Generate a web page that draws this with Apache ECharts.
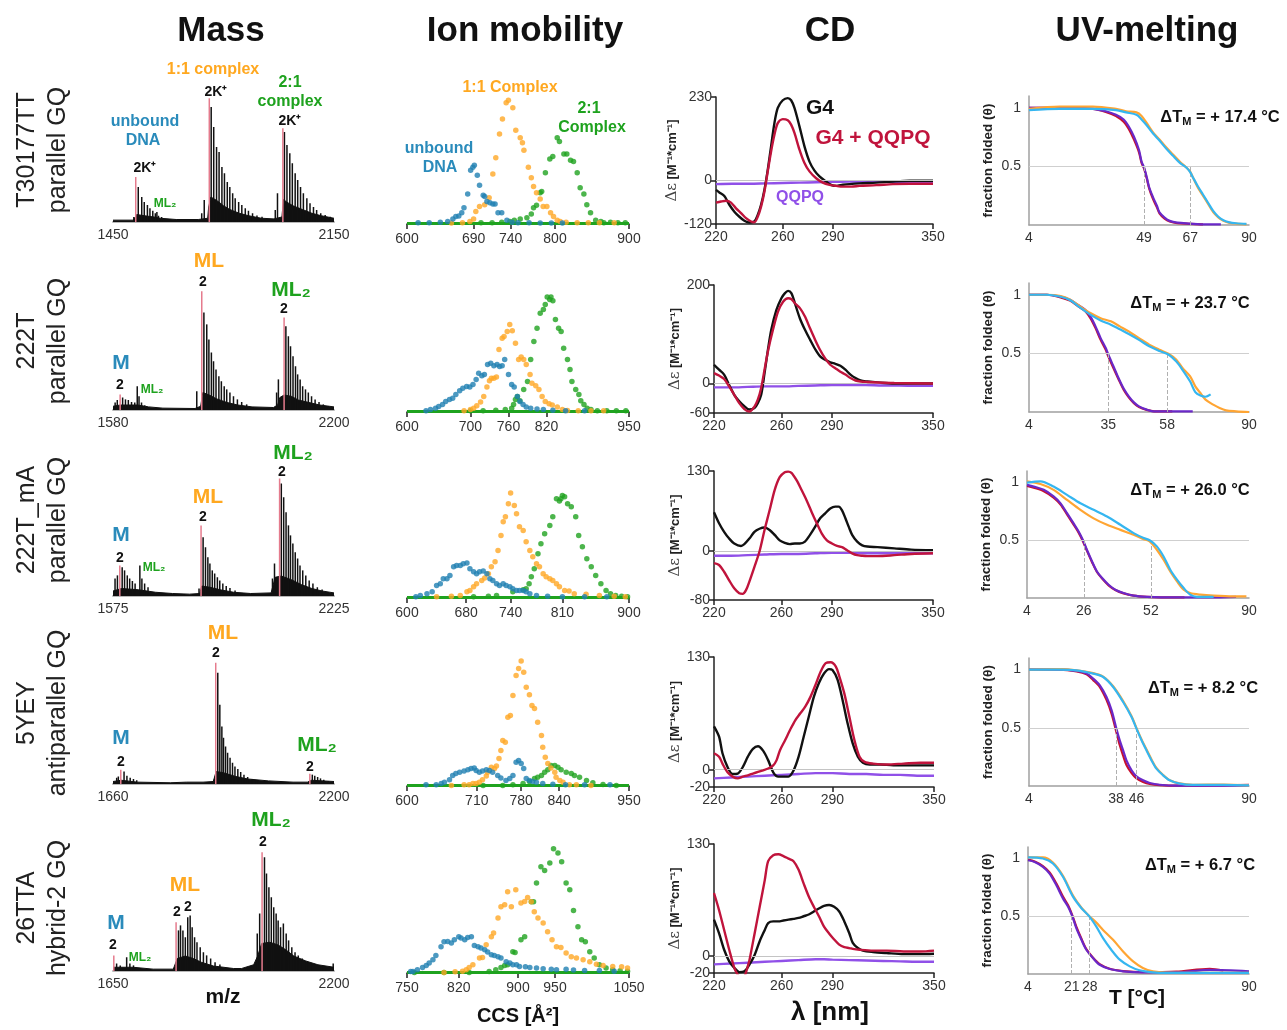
<!DOCTYPE html>
<html>
<head>
<meta charset="utf-8">
<title>Mass / Ion mobility / CD / UV-melting</title>
<script src="https://cdn.jsdelivr.net/npm/echarts@6/dist/echarts.min.js"></script>
<style>
html, body { margin: 0; padding: 0; background: #fff; }
#main { width: 1287px; height: 1030px; }
</style>
</head>
<body>
<div id="main"></div>
<script>
// ---------- row names ----------
var rowName1 = ['T30177TT', '222T', '222T_mA', '5YEY', '26TTA'];
var rowName2 = ['parallel GQ', 'parallel GQ', 'parallel GQ', 'antiparallel GQ', 'hybrid-2 GQ'];

// ---------- Mass: [m/z, rel. intensity] ----------
var massTicks = [[1450, 2150], [1580, 2200], [1575, 2225], [1660, 2200], [1650, 2200]];

var mass1Peaks = [[1516,4],[1530,28],[1541,20],[1549,16],[1559,13.6],[1567,11],[1576,9],[1584,7],[1589,8],[1594,5],[1604,4],[1731,7],[1739,17.6],[1761,92],[1769,76],[1778,60],[1786,56],[1795,44],[1803,39],[1812,32],[1820,28],[1829,23],[1837,19],[1848,16],[1858,13.6],[1869,11],[1879,9],[1892,7],[1906,5.3],[1922,4.3],[1964,9.6],[1971,23],[1993,72],[2001,61.6],[2010,55],[2018,47],[2027,39],[2035,33.6],[2044,28],[2053,23],[2064,19],[2074,15],[2085,12],[2095,9.6],[2108,7],[2122,5.6],[2138,4.3]];
var mass1Red = [[1522,36],[1755,99],[1988,75]];
var mass1Env = [[1450,1.5],[1515,1.5],[1520,3],[1525,6],[1550,5],[1580,4],[1600,3],[1650,2],[1720,2],[1750,3],[1753,12],[1760,20],[1780,17],[1800,13],[1820,10],[1850,7],[1880,5],[1920,3],[1960,2.5],[1985,4],[1990,18],[2000,16],[2020,13],[2050,10],[2080,7],[2110,5],[2150,3]];

var mass2Peaks = [[1586,6],[1592,8],[1607,10],[1615,8.5],[1623,8],[1632,6.4],[1641,6],[1648,19],[1653,11],[1660,6],[1669,3.7],[1815,15],[1835,78],[1843,68.5],[1849,56.5],[1856,46],[1862,39],[1869,32.5],[1877,27],[1884,23],[1892,19],[1899,16.5],[1908,14],[1918,11],[1929,8.5],[1941,6.4],[1955,4.5],[2039,14],[2044,24.5],[2065,67],[2072,59],[2078,51],[2085,43],[2092,35],[2098,28.5],[2105,24.5],[2112,19],[2120,16.5],[2128,14],[2137,11],[2147,8.5],[2158,6.4],[2170,4.5],[2184,3.2]];
var mass2Red = [[1600,12.5],[1829,95],[2060,74]];
var mass2Env = [[1580,3],[1600,4],[1650,4],[1680,2.5],[1720,1.5],[1810,1.2],[1826,3],[1832,14],[1850,12],[1870,9],[1900,6],[1930,4],[1970,2.5],[2030,2],[2042,4],[2048,10],[2060,12],[2080,11],[2100,8],[2130,6],[2160,4],[2200,2.5]];

var mass3Peaks = [[1581,14],[1588,16.5],[1602,23],[1609,20.5],[1617,16.5],[1624,14],[1632,12],[1640,10],[1654,24.5],[1660,14],[1668,10],[1678,7],[1828,6],[1840,47],[1847,39],[1854,31],[1860,26],[1867,20.5],[1874,18],[1882,15],[1889,12.5],[1898,10],[1908,8],[1919,6.4],[1934,4.5],[2044,14],[2050,26],[2070,90],[2077,79],[2084,67],[2091,56.5],[2097,48.5],[2104,42],[2111,35],[2118,30],[2125,24.5],[2133,20.5],[2142,16.5],[2152,12.5],[2163,10],[2176,7],[2190,5.3],[2207,3.2]];
var mass3Red = [[1595,24.5],[1834,56.5],[2065,94]];
var mass3Env = [[1575,4],[1600,6],[1650,5],[1700,3],[1750,2],[1800,1.5],[1830,2],[1836,8],[1860,7],[1890,5],[1930,3],[1980,2],[2040,2.5],[2045,3],[2052,15],[2070,16],[2100,13],[2130,9],[2160,6],[2190,4],[2225,2.5]];

var mass4Peaks = [[1669,5],[1673,6],[1687,10],[1694,6.7],[1702,5],[1710,4],[1718,3],[1907,3.5],[1916,89],[1921,63.5],[1926,46],[1930,37],[1935,30],[1940,25],[1946,21],[1952,17],[1958,14],[1965,12],[1972,9.6],[1980,7.5],[1989,5.6],[2000,4],[2011,3],[2147,7.5],[2153,6.7],[2160,5.6],[2167,4.5],[2175,3.5],[2186,2.4]];
var mass4Red = [[1679,11.5],[1911,97],[2141,8.3]];
var mass4Env = [[1660,2],[1680,3],[1720,1.5],[1800,1],[1840,1.5],[1880,1.5],[1905,2],[1912,10],[1930,9],[1960,6],[1990,4],[2040,2.5],[2100,1.5],[2135,1.5],[2145,3],[2200,2]];

var mass5Peaks = [[1659,6],[1668,4.5],[1684,11],[1692,6],[1701,4.5],[1813,32.5],[1818,36.5],[1824,32.5],[1830,27],[1836,43],[1842,44.5],[1847,35],[1853,27],[1859,23],[1867,19],[1875,15],[1883,12.5],[1893,10],[1904,7],[1916,5.3],[2009,30],[2015,46],[2027,91],[2032,78],[2038,67],[2044,59],[2050,51],[2056,46],[2061,40.5],[2067,35],[2074,38],[2081,30],[2087,24.5],[2095,19],[2103,15],[2111,12.5],[2121,10],[2132,7],[2145,6],[2157,4.5],[2169,3.7],[2198,6]];
var mass5Red = [[1652,12.5],[1807,39],[2021,95]];
var mass5Env = [[1650,3],[1700,3],[1750,1.5],[1800,1.5],[1804,2],[1810,10],[1830,12],[1850,10],[1870,7],[1900,4],[1950,2],[1970,2],[2000,5],[2010,12],[2020,22],[2040,23],[2060,21],[2080,17],[2100,12],[2130,8],[2160,5],[2200,3]];

// ---------- Ion mobility: [CCS, rel. intensity] ----------
var imTicks = [[600,690,740,800,900], [600,700,760,820,950], [600,680,740,810,900], [600,710,780,840,950], [750,820,900,950,1050]];

var im1Blue = [[615,1],[630,1],[645,1.5],[655,2],[662,4],[666,6],[670,6.5],[674,9],[677,13],[682,24],[686,43],[689,45.5],[691,47],[695,39],[698,31],[703,23],[705,22],[708,18],[712,17],[716,16],[719,16],[723,9],[728,9],[735,3],[742,1.5],[750,1],[765,1],[780,0.8],[795,0.8],[810,0.8]];
var im1Orange = [[660,0.8],[675,1],[685,2],[690,4],[693,10],[698,14],[705,15.5],[711,21],[716,40],[720,53],[725,72],[729,84],[734,97],[737,99],[743,93],[747,75],[753,69],[756,65],[758,59],[764,45.5],[768,37],[771,30],[775,25],[780,20],[784,14],[789,14],[794,9],[798,6],[803,3],[807,2],[815,1.5],[830,1],[845,1],[860,1],[880,1]];
var im1Green = [[700,1],[715,1],[728,1.5],[739,2],[745,3],[753,4],[762,5],[768,8],[771,13],[775,15],[780,25],[782,26],[787,41],[793,52],[797,54],[803,69],[806,66],[812,56],[816,56],[821,51],[825,50],[830,41],[834,29],[839,24],[843,15.5],[848,9],[855,3],[862,2],[866,1],[875,1.5],[885,1],[895,1]];

var im2Blue = [[630,1],[637,2],[645,3],[650,4.5],[656,6],[661,8.5],[667,10],[672,11],[677,14],[683,17],[688,19],[694,20.5],[699,20],[704,22],[709,26],[713,31],[718,29],[722,30],[727,38],[732,39],[737,37],[742,38],[746,36.5],[750,37],[754,42],[760,30],[765,22],[769,20],[774,12.5],[778,8.5],[783,6],[788,4],[795,3],[805,2.5],[815,2],[830,1.5],[850,1],[880,1]];
var im2Orange = [[690,1],[700,2],[705,3],[710,5],[716,8],[721,12.5],[726,20],[730,25],[733,27],[737,27],[741,28],[745,50],[750,59],[753,60.5],[758,64.5],[762,70],[766,65],[771,55],[776,42],[780,44],[784,42],[788,38],[794,30],[797,23],[803,21],[808,18],[813,12.5],[818,8.5],[824,6.7],[829,5.6],[837,4],[845,2],[853,1.3],[870,1],[890,1],[910,1]];
var im2Green = [[700,1],[720,1],[740,1.5],[755,2],[765,3],[768,6],[771,10],[774,12.5],[778,9],[784,18],[790,24.5],[795,42],[800,56.5],[805,67],[810,79],[815,82],[818,86],[821,92],[825,90],[827,92],[830,89],[834,74],[839,67],[843,64.5],[847,51],[853,42],[857,34],[860,24.5],[866,18],[871,14],[874,9],[879,6],[884,3],[890,2],[900,1],[915,1],[930,1],[945,1]];

var im3Blue = [[612,1],[618,2],[627,3.5],[634,5],[640,10],[645,11.5],[649,15.5],[654,15.5],[658,18],[663,25],[667,26],[672,26],[676,27.5],[681,28],[685,23.5],[690,21],[694,19.5],[698,21],[703,21.6],[708,19.5],[712,15.5],[716,14],[721,11.5],[725,10],[730,11.5],[734,10],[739,9],[743,7.5],[748,6],[752,6],[757,6],[761,5],[766,3.5],[775,2],[790,1.5],[810,1],[840,1],[870,1]];
var im3Orange = [[640,1],[660,1.5],[672,2],[681,5],[685,6],[690,9],[694,11.5],[701,14],[705,16],[710,19.5],[714,25],[719,29],[723,38],[727,50],[730,61],[733,65],[737,75.5],[740,84],[745,74],[748,67.5],[752,57],[757,54],[761,45],[766,38],[770,33],[775,27.5],[779,25],[784,19.5],[788,17],[793,15.5],[797,14],[802,11.5],[806,9],[813,6],[819,5.6],[826,3.5],[842,3],[860,2],[880,1.5],[895,1]];
var im3Green = [[690,1],[710,1.5],[721,2],[743,5],[757,6.7],[761,7.5],[765,11.5],[768,17],[772,23.5],[777,35.5],[781,43.5],[786,51.5],[793,58],[797,65],[802,79.5],[806,77.6],[808,79.5],[810,82],[813,81],[817,75.5],[822,73],[828,65],[832,50],[837,41],[843,31.5],[849,25],[855,18],[862,11.5],[869,6],[875,3.5],[882,2],[890,1.5],[898,1]];

var im4Blue = [[630,1],[646,1],[654,2],[659,3],[667,5],[672,8.5],[677,10],[683,11],[690,12],[696,13],[701,14],[706,14.4],[709,12.5],[714,11],[719,12],[725,13],[730,12.5],[735,11],[743,8.5],[748,6.4],[756,4.5],[762,6],[767,8.5],[772,19],[776,20.5],[780,18],[784,14],[788,6],[793,4.5],[798,3.7],[804,3],[814,2],[830,1.5],[850,1],[880,1],[920,1]];
var im4Orange = [[670,0.5],[690,1],[698,1],[704,2],[709,2],[714,3],[719,5],[725,8],[727,11],[733,15],[738,14],[741,16],[745,22],[748,28.5],[751,36.5],[755,35],[759,55],[763,56.5],[767,72.5],[772,88.5],[776,94],[780,100],[784,91],[788,79],[793,73],[797,64.5],[801,62],[806,51],[812,40.5],[814,31],[818,23],[822,18],[827,14.4],[833,11],[835,7],[841,4.5],[846,3],[856,1],[867,1],[890,0.5]];
var im4Green = [[720,0.5],[751,0.5],[767,1],[783,2],[793,3.7],[801,6],[806,7],[812,8.5],[817,11],[822,13],[827,16.5],[833,16.5],[838,15],[843,13],[851,11],[859,10],[864,8.5],[872,7],[883,4.5],[893,2.7],[909,1.3],[930,0.5]];

var im5Blue = [[755,1.3],[758,1.3],[764,2.7],[771,4.5],[776,6],[780,8],[785,10.7],[789,14],[796,21],[800,25],[805,25.3],[810,24],[814,26.7],[820,29],[823,28],[828,26.7],[832,28.5],[837,29],[841,22],[846,21],[850,20],[855,18.7],[859,16.8],[864,14.7],[868,14],[873,13],[877,12],[884,9],[889,8],[893,6.7],[898,6.7],[902,5.3],[910,5],[916,4.5],[925,4],[934,3.5],[945,3],[952,2.7],[965,3],[975,2.5],[990,2],[1010,2],[1030,1.5]];
var im5Orange = [[800,0.5],[815,1],[825,1.5],[830,2.7],[834,4.5],[839,6.7],[848,12],[852,12.5],[857,22.7],[864,29],[867,32],[873,44],[877,53],[882,54.7],[886,65],[891,53],[897,66.7],[904,56],[909,57.3],[913,60.5],[918,57],[922,49],[927,44],[934,40],[940,33],[946,26.7],[952,21],[958,20.5],[965,16],[972,13],[979,12],[988,10.7],[997,9],[1006,7],[1015,6],[1028,5.3],[1040,5],[1048,4]];
var im5Green = [[760,0.5],[800,0.5],[834,0.5],[861,1.3],[870,2.7],[877,4.5],[882,6],[886,6.7],[893,17],[896,16.5],[904,26.7],[909,29],[918,57],[921,57],[925,72],[931,85],[936,82],[943,88],[948,99.5],[954,96],[959,89],[965,72],[970,66.7],[975,50],[981,37],[986,26.7],[991,25],[997,17],[1003,12],[1010,6.7],[1019,4],[1028,2.7],[1038,1.9],[1048,1.5]];

// ---------- CD: [wavelength nm, delta epsilon] ----------
var cdXTicks = [220, 260, 290, 350];
var cdYMin = [-120, -60, -80, -20, -20];
var cdYMax = [230, 200, 130, 130, 130];

var cd1G4 = [[220,-26],[222,-33],[225,-43],[228,-67],[231,-86],[234,-100],[237,-111],[240,-116],[243,-113],[245,-95],[247,-67],[249,-26],[251,29],[253,94],[255,158],[257,200],[260,221],[263,227],[265,221],[267,200],[270,149],[273,94],[276,52],[279,27],[282,11],[286,-3],[289,-12],[292,-15],[296,-12],[300,-10],[306,-8],[316,-6],[326,-3],[336,-1],[350,-1]];
var cd1Cx = [[220,-61],[223,-58],[226,-56],[229,-61],[232,-77],[235,-90],[238,-104],[241,-113],[243,-115],[245,-100],[247,-72],[249,-31],[251,25],[253,80],[255,126],[257,158],[260,169],[263,166],[265,154],[267,131],[270,85],[273,48],[276,25],[280,6],[284,-6],[288,-12],[292,-15],[296,-17],[301,-17],[306,-15],[316,-13],[326,-10],[336,-9],[350,-9]];
var cd1L = [[220,-10],[230,-9],[240,-9],[250,-8],[260,-7],[270,-6],[280,-5],[290,-4],[300,-3],[310,-4],[320,-4],[330,-5],[340,-5],[350,-5]];

var cd2G4 = [[220,38],[223,28],[226,18],[229,-3],[232,-23],[235,-36],[238,-46],[241,-53],[244,-50],[246,-40],[248,-23],[250,21],[252,68],[254,109],[257,149],[260,173],[262,183],[264,188],[266,183],[268,163],[271,132],[274,109],[277,89],[280,70],[283,55],[286,48],[289,43],[292,40],[295,36],[298,28],[301,18],[304,11],[307,6],[311,4],[317,2],[327,0],[350,0]];
var cd2Cx = [[220,21],[223,16],[226,9],[229,-6],[232,-23],[235,-40],[238,-52],[241,-57],[244,-47],[246,-33],[248,-9],[250,28],[252,65],[255,109],[258,146],[261,166],[264,173],[266,171],[268,163],[271,153],[274,136],[277,112],[280,89],[283,68],[286,51],[289,38],[292,31],[295,24],[298,18],[301,11],[304,6],[307,4],[311,3],[317,2],[327,1],[350,0]];
var cd2L = [[220,-8],[230,-8],[240,-7],[250,-6],[260,-6],[270,-5],[280,-4],[290,-3],[300,-3],[310,-3],[320,-4],[330,-4],[340,-5],[350,-5]];

var cd3G4 = [[220,63],[223,45],[226,31],[229,20],[232,12],[236,8],[238,11],[241,20],[244,31],[247,36],[250,38],[253,34],[256,26],[259,17],[262,13],[265,11],[268,12],[271,12],[274,15],[277,26],[280,39],[283,53],[286,61],[289,69],[292,72],[294,72],[296,66],[298,53],[300,39],[302,26],[305,15],[308,9],[311,7],[317,6],[327,4],[337,2],[350,1]];
var cd3Cx = [[220,-20],[223,-23],[226,-34],[229,-48],[232,-61],[235,-69],[237,-70],[239,-64],[241,-50],[244,-26],[247,-1],[250,34],[253,66],[256,99],[259,120],[262,128],[264,129],[266,127],[269,115],[272,99],[275,82],[278,63],[281,45],[284,28],[287,17],[290,12],[293,8],[296,6],[299,1],[302,-4],[305,-7],[308,-8],[311,-8.5],[317,-8.5],[327,-7],[337,-5],[350,-4]];
var cd3L = [[220,-8],[230,-8],[240,-7],[250,-6],[260,-5],[270,-5],[280,-4],[290,-3],[300,-3],[310,-4],[320,-4],[330,-4],[340,-4],[350,-4]];

var cd4G4 = [[220,50],[223,38],[225,19],[228,3],[231,-5],[234,-4.5],[237,3],[240,15],[243,24],[246,27],[249,22],[252,11],[255,-3],[258,-8],[261,-8],[264,-8],[267,-1],[270,15],[273,38],[276,61],[279,84],[282,100],[285,111],[288,116],[290,115],[293,104],[296,80],[299,53],[302,30],[305,15],[308,8],[312,6],[318,6],[326,5],[336,5],[350,5]];
var cd4Cx = [[220,19],[223,15],[225,7],[228,-3],[231,-8],[234,-10],[237,-8],[240,-6.5],[243,-4.5],[246,-2.6],[249,-0.7],[252,1.3],[255,5],[257,11],[259,22.5],[262,34],[265,46],[268,57],[271,65],[274,73],[277,84],[280,98],[283,113],[286,123],[289,124],[292,119],[294,108],[297,88],[300,61],[303,34],[306,15],[309,9],[314,7],[322,6],[332,7],[342,8],[350,8]];
var cd4L = [[220,-10],[230,-9],[240,-8],[250,-7],[260,-6],[270,-5],[280,-4],[290,-4],[300,-5],[310,-5],[320,-6],[330,-6],[340,-7],[350,-7]];

var cd5G4 = [[220,42],[223,26],[226,7],[229,-6.5],[232,-14],[235,-19],[238,-18],[241,-10],[244,1],[247,17],[250,30],[252,38],[255,40],[258,40],[261,41],[264,42],[267,43],[270,44],[273,46],[276,48],[279,51.5],[282,55],[285,58],[288,59],[291,57],[294,51.5],[297,40],[300,26],[302,15],[305,9],[308,6],[314,4.4],[322,3.2],[332,2],[342,2],[350,2.4]];
var cd5Cx = [[220,73],[223,53],[226,30],[229,7],[232,-14],[234,-22],[236,-27],[238,-24],[240,-12],[241,-4.5],[244,26],[247,57],[250,88],[252,110],[255,117],[258,118],[261,116],[264,113],[267,110],[270,100],[273,84],[276,69],[279,57],[282,46],[285,34],[288,26],[291,19],[294,13],[297,10],[300,9],[302,8],[306,7],[314,6],[322,6],[332,5],[342,5],[350,6]];
var cd5L = [[220,-10],[230,-9],[240,-8],[250,-7],[260,-6],[270,-5],[280,-4],[285,-4],[290,-4.5],[300,-5],[310,-5.5],[320,-6],[330,-6.5],[340,-7],[350,-7]];

// ---------- UV melting: [T degC, fraction folded] ----------
var uvTm = [[49, 67], [35, 58], [26, 52], [38, 46], [21, 28]];
var uvDelta = ['17.4', '23.7', '26.0', '8.2', '6.7'];

var uv1Red = [[4,1],[16,1],[29,0.99],[34,0.965],[38,0.93],[41,0.88],[43,0.82],[45,0.73],[47,0.62],[48,0.53],[49,0.48],[50,0.4],[51,0.31],[52.5,0.22],[54,0.15],[55,0.1],[57,0.055],[59,0.03],[62,0.015],[67,0.01],[72,0.005]];
var uv1Purple = [[4,1],[10,1],[16,1],[22,1],[29,0.99],[34,0.97],[38,0.94],[41,0.9],[43,0.84],[45,0.755],[47,0.64],[48,0.54],[49,0.49],[50,0.41],[51,0.32],[52.5,0.236],[54,0.164],[55,0.107],[57,0.063],[59,0.035],[62,0.02],[67,0.012],[71,0.006],[75,0.005],[79,0.005]];
var uv1Orange = [[4,0.99],[16,1.01],[29,1.01],[38,0.99],[42,0.97],[46,0.96],[48,0.93],[50,0.87],[52.5,0.79],[55,0.73],[57.7,0.66],[60.3,0.6],[63,0.54],[65.5,0.49],[67,0.455],[68,0.41],[70,0.32],[72,0.25],[74,0.18],[76,0.11],[78,0.065],[80,0.035],[82,0.02],[85,0.012],[89,0.005]];
var uv1Cyan = [[4,0.98],[16,0.99],[29,0.99],[38,0.98],[42,0.96],[46,0.94],[48,0.9],[50,0.85],[52.5,0.78],[55,0.72],[57.7,0.65],[60.3,0.59],[63,0.53],[65.5,0.49],[67,0.45],[68,0.41],[70,0.33],[72,0.26],[74,0.19],[76,0.12],[78,0.07],[80,0.04],[82,0.025],[85,0.015],[89,0.01]];

var uv2Red = [[4,1],[11,1],[16,0.98],[20,0.95],[23,0.905],[26,0.86],[28,0.8],[30,0.715],[32,0.615],[34,0.53],[35,0.475],[37,0.375],[39,0.28],[41,0.19],[43,0.125],[45,0.075],[47,0.042],[50,0.018],[53,0.006],[60,0.005]];
var uv2Purple = [[4,1],[11,1],[16,0.986],[20,0.957],[23,0.915],[26,0.872],[28,0.815],[30,0.73],[32,0.63],[34,0.545],[35,0.49],[37,0.39],[39,0.29],[41,0.2],[43,0.134],[45,0.082],[47,0.048],[50,0.02],[52.5,0.006],[58,0.005],[68,0.005]];
var uv2Orange = [[4,1],[11,1],[16,0.99],[20,0.96],[24,0.9],[28,0.844],[32,0.8],[36,0.773],[39.5,0.73],[43,0.687],[47,0.63],[51,0.574],[55,0.531],[58.5,0.497],[61.6,0.446],[64,0.375],[67,0.304],[69,0.219],[71,0.162],[73,0.105],[76,0.0625],[78.5,0.034],[81,0.014],[85,0.006],[90,0]];
var uv2Cyan = [[4,1],[11,1],[16,0.985],[20,0.955],[24,0.89],[28,0.83],[32,0.78],[36,0.745],[39.5,0.705],[43,0.665],[47,0.615],[51,0.56],[55,0.52],[58.5,0.49],[61.6,0.43],[64,0.36],[67,0.26],[69,0.17],[71,0.14],[73,0.13],[75,0.15]];

var uv3Red = [[4,0.97],[6.6,0.955],[10.5,0.925],[14.3,0.87],[17,0.81],[19.5,0.725],[22,0.638],[24,0.566],[25.7,0.49],[27.2,0.41],[29.2,0.31],[31.1,0.225],[33.1,0.168],[35.6,0.11],[38.2,0.07],[41.4,0.04],[45.3,0.02],[50.5,0.009],[56,0.005],[65,0.005]];
var uv3Purple = [[4,0.98],[6.6,0.965],[10.5,0.937],[14.3,0.88],[17,0.82],[19.5,0.735],[22,0.648],[24,0.576],[25.7,0.5],[27.2,0.418],[29.2,0.317],[31.1,0.23],[33.1,0.173],[35.6,0.115],[38.2,0.072],[41.4,0.043],[45.3,0.02],[50.5,0.009],[55.7,0.005],[65,0.005],[75,0.005],[85,0.01]];
var uv3Orange = [[4,1.01],[9.2,0.988],[14.3,0.937],[19.5,0.85],[24.7,0.764],[29.8,0.69],[35,0.634],[40.2,0.59],[45.3,0.548],[49.2,0.51],[51.5,0.49],[54.3,0.418],[56.9,0.331],[59.5,0.23],[62.1,0.144],[64.7,0.072],[67.2,0.043],[71.1,0.029],[76.3,0.02],[84,0.014],[89,0.014]];
var uv3Cyan = [[4,1.0],[9.2,1.01],[14.3,0.965],[19.5,0.893],[24.7,0.82],[29.8,0.764],[35,0.706],[40.2,0.634],[45.3,0.562],[49.2,0.519],[51.5,0.5],[54.3,0.447],[56.9,0.36],[59.5,0.245],[62.1,0.159],[64.7,0.086],[67.2,0.029],[69.8,0.009],[76.3,0.009]];

var uv4Red = [[4,1],[16,1],[22.6,0.985],[26.5,0.96],[29.1,0.91],[31.7,0.85],[34.3,0.74],[36.3,0.62],[38.2,0.46],[39.5,0.35],[40.8,0.26],[42.1,0.18],[44.1,0.11],[46,0.065],[48.6,0.035],[51.2,0.018],[55.1,0.008],[62,0.003],[90,0.01]];
var uv4Purple = [[4,1],[16,1],[22.6,0.989],[26.5,0.966],[29.1,0.923],[31.7,0.865],[34.3,0.765],[36.3,0.65],[38.2,0.49],[39.5,0.39],[40.8,0.307],[42.1,0.22],[44.1,0.135],[46,0.083],[48.6,0.049],[51.2,0.026],[55.1,0.011],[61.6,0.003],[70,0.003],[90,0.005]];
var uv4Orange = [[4,1],[16,1.005],[22.6,0.995],[29.1,0.97],[33,0.94],[36.9,0.857],[40.8,0.73],[44.1,0.6],[46,0.5],[48,0.4],[49.9,0.315],[51.9,0.228],[53.8,0.155],[56.4,0.095],[59,0.05],[62.9,0.022],[68.1,0.01],[80,0.012],[90,0.005]];
var uv4Cyan = [[4,1],[16,1],[22.6,0.994],[29.1,0.966],[33,0.937],[36.9,0.851],[40.8,0.722],[44.1,0.593],[46,0.493],[48,0.393],[49.9,0.307],[51.9,0.22],[53.8,0.149],[56.4,0.092],[59,0.049],[62.9,0.02],[68.1,0.009],[80,0.01],[90,0.005]];

var uv5Red = [[4,0.99],[6.6,0.975],[9.8,0.935],[12.4,0.88],[15,0.785],[17.6,0.67],[19.6,0.595],[21.2,0.51],[22.8,0.41],[24.8,0.305],[26.7,0.215],[29.3,0.14],[31.9,0.085],[35.8,0.045],[41,0.025],[48.7,0.015],[61.7,0.02],[74.7,0.045],[80,0.03]];
var uv5Purple = [[4,0.985],[6.6,0.97],[9.8,0.928],[12.4,0.87],[15,0.77],[17.6,0.655],[19.6,0.583],[21.2,0.503],[22.8,0.397],[24.8,0.296],[26.7,0.21],[29.3,0.138],[31.9,0.08],[35.8,0.043],[41,0.023],[48.7,0.014],[61.7,0.014],[74.7,0.035],[90,0.023]];
var uv5Orange = [[4,1.01],[9.8,1.01],[13.7,0.965],[17.6,0.85],[21.5,0.68],[24.8,0.575],[27.7,0.505],[30.6,0.445],[33.2,0.382],[37.1,0.296],[41,0.195],[44.9,0.109],[48.7,0.052],[52.6,0.023],[57.8,0.012],[68,0.01],[90,0.01]];
var uv5Cyan = [[4,1.01],[9.8,1],[13.7,0.957],[17.6,0.842],[21.5,0.67],[24.8,0.57],[27.7,0.503],[30.6,0.41],[33.2,0.31],[36.4,0.21],[39.7,0.124],[43.6,0.066],[47.4,0.032],[52.6,0.014],[57.8,0.009],[68,0.009],[90,0.009]];

// ---------- grouping ----------
var massPeaks = [mass1Peaks, mass2Peaks, mass3Peaks, mass4Peaks, mass5Peaks];
var massRed = [mass1Red, mass2Red, mass3Red, mass4Red, mass5Red];
var massEnv = [mass1Env, mass2Env, mass3Env, mass4Env, mass5Env];
var imBlue = [im1Blue, im2Blue, im3Blue, im4Blue, im5Blue];
var imOrange = [im1Orange, im2Orange, im3Orange, im4Orange, im5Orange];
var imGreen = [im1Green, im2Green, im3Green, im4Green, im5Green];
var cdG4 = [cd1G4, cd2G4, cd3G4, cd4G4, cd5G4];
var cdCx = [cd1Cx, cd2Cx, cd3Cx, cd4Cx, cd5Cx];
var cdL = [cd1L, cd2L, cd3L, cd4L, cd5L];
var uvRed = [uv1Red, uv2Red, uv3Red, uv4Red, uv5Red];
var uvPurple = [uv1Purple, uv2Purple, uv3Purple, uv4Purple, uv5Purple];
var uvOrange = [uv1Orange, uv2Orange, uv3Orange, uv4Orange, uv5Orange];
var uvCyan = [uv1Cyan, uv2Cyan, uv3Cyan, uv4Cyan, uv5Cyan];

// ---------- layout / style ----------
var FONT = '"Liberation Sans", Arial, sans-serif';
var ORANGE = '#ffa726', GREEN = '#1fa31f', BLUE = '#1f80b2';
var CD_RED = '#c0143c', CD_PURPLE = '#9050e8';
var UV_RED = '#c8102e', UV_PURPLE = '#6a28c8', UV_ORANGE = '#ffa533', UV_CYAN = '#35b6f0';

var massBase = [222, 410, 596, 784, 971];
var imBase = [224, 412, 598, 786, 973];
var cdBox = [[716, 97, 217, 127], [714, 285, 219, 128], [714, 471, 219, 129], [714, 657, 220, 130], [714, 844, 220, 129]];
var uvBox = [[1029, 96, 220, 129], [1029, 283, 220, 129], [1027, 471, 222, 127], [1029, 658, 220, 128], [1028, 847, 221, 127]];

var grids = [], xAxes = [], yAxes = [], series = [], graphics = [];

function addGrid(l, t, w, h) {
	grids.push({ left: l, top: t, width: w, height: h });
	return grids.length - 1;
}
function lbl(vals, margin) {
	return {
		customValues: vals, color: '#333', fontSize: 14, fontFamily: FONT, margin: margin,
		formatter: function (v) { return String(v); }
	};
}
var darkLine = { color: '#222', width: 1.5 };
var greyLine = { color: '#a0a0a0', width: 1.5 };

for (var r = 0; r < 5; r++) {
	// Mass
	var g = addGrid(113, massBase[r] - 125, 221, 125);
	xAxes.push({
		gridIndex: g, type: 'value', min: massTicks[r][0], max: massTicks[r][1],
		axisLine: { onZero: false, lineStyle: { color: '#b8b8b8', width: 2 } },
		axisTick: { show: false }, splitLine: { show: false },
		axisLabel: lbl(massTicks[r], 6)
	});
	yAxes.push({ gridIndex: g, type: 'value', min: 0, max: 100, show: false });
	series.push({
		type: 'line', xAxisIndex: g, yAxisIndex: g, data: massEnv[r], symbol: 'none', silent: true,
		lineStyle: { color: '#111', width: 1 }, areaStyle: { color: '#111', opacity: 1 }, z: 2
	});
	series.push({
		type: 'bar', xAxisIndex: g, yAxisIndex: g, data: massPeaks[r], barWidth: 1.5, barGap: '-100%',
		itemStyle: { color: '#111' }, silent: true, z: 3
	});
	series.push({
		type: 'bar', xAxisIndex: g, yAxisIndex: g, data: massRed[r], barWidth: 1.5, barGap: '-100%',
		itemStyle: { color: '#e57b8d' }, silent: true, z: 4
	});

	// Ion mobility
	g = addGrid(407, imBase[r] - 125, 222, 125);
	var t = imTicks[r];
	xAxes.push({
		gridIndex: g, type: 'value', min: t[0], max: t[t.length - 1],
		axisLine: { onZero: false, lineStyle: darkLine },
		axisTick: { show: true, customValues: t, length: 5, lineStyle: darkLine },
		splitLine: { show: false }, axisLabel: lbl(t, 8)
	});
	yAxes.push({ gridIndex: g, type: 'value', min: 0, max: 100, show: false });
	series.push({
		type: 'line', xAxisIndex: g, yAxisIndex: g, data: [[t[0], 0.4], [t[t.length - 1], 0.4]],
		symbol: 'none', lineStyle: { color: GREEN, width: 3 }, silent: true, z: 2
	});
	[[imGreen[r], GREEN], [imOrange[r], ORANGE], [imBlue[r], BLUE]].forEach(function (s) {
		series.push({
			type: 'scatter', xAxisIndex: g, yAxisIndex: g, data: s[0], symbolSize: 5.5, clip: false,
			itemStyle: { color: s[1] }, silent: true, z: 3
		});
	});

	// CD
	var b = cdBox[r];
	g = addGrid(b[0], b[1], b[2], b[3]);
	var yt = [cdYMin[r], 0, cdYMax[r]];
	xAxes.push({
		gridIndex: g, type: 'value', min: 220, max: 350,
		axisLine: { onZero: false, lineStyle: darkLine },
		axisTick: { show: true, customValues: cdXTicks, length: 5, lineStyle: darkLine },
		splitLine: { show: false }, axisLabel: lbl(cdXTicks, 6)
	});
	yAxes.push({
		gridIndex: g, type: 'value', min: cdYMin[r], max: cdYMax[r],
		axisLine: { show: true, onZero: false, lineStyle: darkLine },
		axisTick: { show: true, customValues: yt, length: 5, lineStyle: darkLine },
		splitLine: { show: false }, axisLabel: lbl(yt, 4),
		name: '{d|Δε} {b|[M⁻¹*cm⁻¹]}', nameLocation: 'middle', nameGap: 30, nameRotate: 90,
		nameTextStyle: { rich: {
			d: { fontFamily: '"DejaVu Serif", serif', fontSize: 15, color: '#444' },
			b: { fontFamily: FONT, fontSize: 13, fontWeight: 'bold', color: '#222' }
		} }
	});
	series.push({
		type: 'line', xAxisIndex: g, yAxisIndex: g, data: cdL[r], symbol: 'none', smooth: 0.3,
		lineStyle: { color: CD_PURPLE, width: 2.4 }, silent: true, z: 3,
		markLine: { silent: true, symbol: 'none', label: { show: false }, lineStyle: { color: '#c4c4c4', width: 1, type: 'solid' }, data: [{ yAxis: 0 }] }
	});
	series.push({
		type: 'line', xAxisIndex: g, yAxisIndex: g, data: cdG4[r], symbol: 'none', smooth: 0.3,
		lineStyle: { color: '#111', width: 2.4 }, silent: true, z: 4
	});
	series.push({
		type: 'line', xAxisIndex: g, yAxisIndex: g, data: cdCx[r], symbol: 'none', smooth: 0.3,
		lineStyle: { color: CD_RED, width: 2.4 }, silent: true, z: 5
	});

	// UV melting
	b = uvBox[r];
	g = addGrid(b[0], b[1], b[2], b[3]);
	var ux = [4, uvTm[r][0], uvTm[r][1], 90];
	xAxes.push({
		gridIndex: g, type: 'value', min: 4, max: 90,
		axisLine: { onZero: false, lineStyle: greyLine },
		axisTick: { show: false }, splitLine: { show: false }, axisLabel: lbl(ux, 6)
	});
	yAxes.push({
		gridIndex: g, type: 'value', min: 0, max: 1.1,
		axisLine: { show: true, onZero: false, lineStyle: greyLine },
		axisTick: { show: false }, splitLine: { show: false }, axisLabel: lbl([0.5, 1], 8),
		name: 'fraction folded (θ)', nameLocation: 'middle', nameGap: 34, nameRotate: 90,
		nameTextStyle: { fontFamily: FONT, fontSize: 13.5, fontWeight: 'bold', color: '#222' }
	});
	var uvSets = [[uvRed[r], UV_RED], [uvPurple[r], UV_PURPLE], [uvOrange[r], UV_ORANGE], [uvCyan[r], UV_CYAN]];
	uvSets.forEach(function (s, i) {
		var sr = {
			type: 'line', xAxisIndex: g, yAxisIndex: g, data: s[0], symbol: 'none', smooth: 0.3,
			lineStyle: { color: s[1], width: 2.2 }, silent: true, z: 3 + i
		};
		if (i === 0) {
			sr.markLine = {
				silent: true, symbol: 'none', label: { show: false },
				data: [
					{ yAxis: 0.5, lineStyle: { color: '#cfcfcf', width: 1, type: 'solid' } },
					[{ coord: [uvTm[r][0], 0], lineStyle: { color: '#b0b0b0', width: 1, type: 'dashed' } }, { coord: [uvTm[r][0], 0.5] }],
					[{ coord: [uvTm[r][1], 0], lineStyle: { color: '#b0b0b0', width: 1, type: 'dashed' } }, { coord: [uvTm[r][1], 0.5] }]
				]
			};
		}
		series.push(sr);
	});
}

// ---------- text ----------
function txt(s, x, y, size, color, weight, rot) {
	return {
		type: 'text', x: x, y: y, rotation: rot || 0, silent: true, z: 100,
		style: {
			text: s, fill: color, align: 'center', verticalAlign: 'middle',
			font: (weight || 'bold') + ' ' + size + 'px ' + FONT
		}
	};
}

var heads = [['Mass', 221], ['Ion mobility', 525], ['CD', 830], ['UV-melting', 1147]];
heads.forEach(function (h) { graphics.push(txt(h[0], h[1], 31, 35, '#111')); });

var rowMid = [150, 341, 520, 713, 908];
for (var i = 0; i < 5; i++) {
	graphics.push(txt(rowName1[i], 27, rowMid[i], 25, '#222', 'normal', Math.PI / 2));
	graphics.push(txt(rowName2[i], 58, rowMid[i], 25, '#222', 'normal', Math.PI / 2));
}

var OT = '#ffa820', GT = '#1ea21e', BT = '#2a8bbb', K = '#111';
var notes = [
	['1:1 complex', 213, 70, 16, OT], ['2:1', 290, 83, 16, GT], ['complex', 290, 102, 16, GT],
	['unbound', 145, 122, 16, BT], ['DNA', 143, 141, 16, BT],
	['2K⁺', 216, 92, 14, K], ['2K⁺', 145, 168, 14, K], ['2K⁺', 290, 121, 14, K], ['ML₂', 165, 204, 12, GT],
	['ML', 209, 261, 21, OT], ['2', 203, 282, 14, K], ['ML₂', 291, 290, 21, GT], ['2', 284, 309, 14, K],
	['M', 121, 363, 21, BT], ['2', 120, 385, 14, K], ['ML₂', 152, 390, 12, GT],
	['ML', 208, 497, 21, OT], ['2', 203, 517, 14, K], ['ML₂', 293, 453, 21, GT], ['2', 282, 472, 14, K],
	['M', 121, 535, 21, BT], ['2', 120, 558, 14, K], ['ML₂', 154, 568, 12, GT],
	['ML', 223, 633, 21, OT], ['2', 216, 653, 14, K], ['ML₂', 317, 745, 21, GT], ['2', 310, 767, 14, K],
	['M', 121, 738, 21, BT], ['2', 121, 762, 14, K],
	['ML₂', 271, 820, 21, GT], ['2', 263, 842, 14, K], ['ML', 185, 885, 21, OT], ['2', 177, 912, 14, K], ['2', 188, 907, 14, K],
	['M', 116, 923, 21, BT], ['2', 113, 945, 14, K], ['ML₂', 140, 958, 12, GT],
	['m/z', 223, 997, 21, K],
	['1:1 Complex', 510, 88, 16, OT], ['2:1', 589, 109, 16, GT], ['Complex', 592, 128, 16, GT],
	['unbound', 439, 149, 16, BT], ['DNA', 440, 168, 16, BT],
	['CCS [Å²]', 518, 1016, 20, K],
	['G4', 820, 108, 21, K], ['G4 + QQPQ', 873, 138, 21, CD_RED], ['QQPQ', 800, 198, 16, CD_PURPLE],
	['λ [nm]', 830, 1013, 26, K],
	['T [°C]', 1137, 998, 21, K]
];
notes.forEach(function (n) { graphics.push(txt(n[0], n[1], n[2], n[3], n[4])); });

var dtPos = [[1220, 117], [1190, 303], [1190, 490], [1203, 688], [1200, 865]];
for (var j = 0; j < 5; j++) {
	graphics.push({
		type: 'text', x: dtPos[j][0], y: dtPos[j][1], silent: true, z: 100,
		style: {
			text: '{a|ΔT}{s|M}{a| = + ' + uvDelta[j] + ' °C}', align: 'center', verticalAlign: 'middle',
			rich: {
				a: { fontFamily: FONT, fontSize: 16.5, fontWeight: 'bold', fill: K, lineHeight: 20 },
				s: { fontFamily: FONT, fontSize: 11, fontWeight: 'bold', fill: K, lineHeight: 20, padding: [9, 0, 0, 0] }
			}
		}
	});
}

var chart = echarts.init(document.getElementById('main'));
chart.setOption({
	backgroundColor: '#fff',
	animation: false,
	grid: grids,
	xAxis: xAxes,
	yAxis: yAxes,
	series: series,
	graphic: graphics
});
</script>
</body>
</html>
